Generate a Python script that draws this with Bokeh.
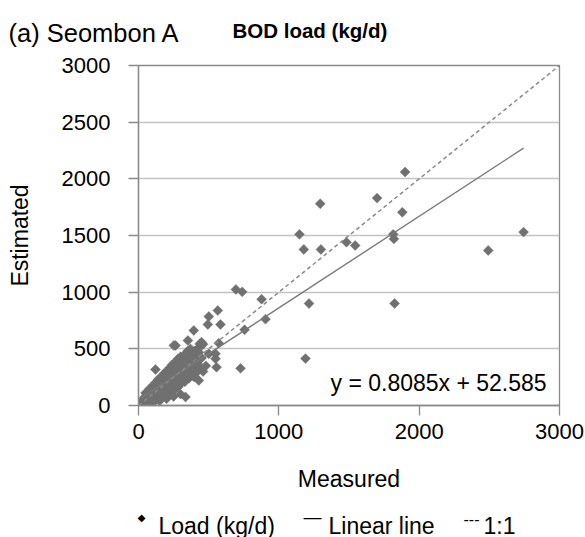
import numpy as np
from bokeh.plotting import figure
from bokeh.layouts import column
from bokeh.models import Range1d, FixedTicker, Label, ColumnDataSource
from bokeh.embed import file_html
from bokeh.resources import INLINE

# ---------------- data ----------------
title_left = "(a) Seombon A"
title_right = "BOD load (kg/d)"
x_label = "Measured"
y_label = "Estimated"
x_ticks = [0, 1000, 2000, 3000]
y_ticks = [0, 500, 1000, 1500, 2000, 2500, 3000]
slope = 0.8085
intercept = 52.585
equation = "y = 0.8085x + 52.585"
legend_labels = ["Load (kg/d)", "Linear line", "1:1"]

measured = [
    # dense band along the 1:1 line
    5, 10, 15, 20, 25, 30, 35, 40, 45, 50,
    55, 60, 65, 70, 75, 80, 85, 90, 95, 100,
    105, 110, 115, 120, 125, 130, 135, 140, 145, 150,
    155, 160, 165, 170, 175, 180, 185, 190, 195, 200,
    205, 210, 215, 220, 225, 230, 235, 240, 245, 250,
    255, 260, 265, 270, 275, 280, 285, 290, 295, 300,
    310, 320, 330, 340, 350, 360, 370, 380, 390, 400,
    410, 420, 430, 440, 450, 460,
    # below the line
    60, 90, 120, 150, 180, 210, 240, 270, 300, 330,
    360, 390, 200, 250, 280, 320, 350, 380, 420, 440,
    30, 60, 90, 120, 150, 180, 210, 240, 270, 300,
    330, 360, 390, 420, 100, 150, 200, 250, 300, 335,
    400, 460, 480, 170, 230, 290, 350, 410,
    # above the line
    50, 80, 100, 120, 140, 160, 180, 200, 220, 240,
    260, 280, 300, 150, 190, 230, 270, 310, 330, 350, 370,
    40, 70, 100, 130, 160, 190, 220, 250, 280, 310,
    340, 370, 400, 90, 140, 210, 260, 320, 380,
    # near origin
    8, 12, 18, 22, 28, 32, 38, 42, 48, 52,
    58, 62, 68, 72, 78, 82, 88, 92, 98, 102,
    # scattered points
    1900, 1295, 1700, 1880, 1147, 1815, 1820, 1178, 1300, 1482,
    1544, 2492, 2744, 694, 739, 877, 905, 756, 565, 501,
    584, 494, 394, 352, 437, 572, 549, 556, 727, 121,
    430, 1190, 1215, 1825, 449, 501, 549, 430, 264, 252,
]
estimated = [
    10, 20, 5, 30, 15, 40, 25, 50, 35, 60,
    45, 70, 50, 85, 60, 95, 70, 100, 80, 110,
    90, 130, 95, 140, 105, 150, 115, 160, 125, 175,
    130, 185, 140, 200, 150, 210, 160, 220, 170, 240,
    180, 250, 190, 265, 200, 280, 210, 290, 220, 305,
    230, 320, 240, 330, 250, 345, 260, 360, 270, 380,
    290, 400, 300, 420, 320, 440, 340, 460, 360, 480,
    380, 500, 400, 520, 420, 540,
    20, 40, 60, 80, 100, 120, 140, 170, 190, 210,
    240, 260, 90, 130, 160, 220, 250, 280, 300, 330,
    10, 35, 55, 90, 110, 150, 170, 200, 230, 250,
    290, 310, 340, 370, 20, 40, 60, 80, 100, 75,
    250, 300, 350, 90, 150, 200, 270, 330,
    110, 150, 170, 200, 230, 250, 280, 300, 330, 360,
    380, 410, 430, 210, 260, 320, 360, 420, 450, 480, 500,
    70, 100, 140, 170, 200, 235, 265, 300, 320, 360,
    380, 410, 440, 130, 200, 260, 310, 390, 430,
    0, 8, 12, 10, 22, 18, 30, 28, 40, 38,
    52, 48, 60, 64, 72, 76, 84, 88, 95, 100,
    2060, 1780, 1830, 1705, 1510, 1510, 1470, 1377, 1377, 1441,
    1412, 1368, 1530, 1024, 1003, 938, 762, 668, 838, 785,
    715, 715, 662, 574, 544, 550, 412, 338, 328, 318,
    221, 414, 900, 900, 559, 456, 456, 470, 530, 530,
]
assert len(measured) == len(estimated)

# ---------------- layout constants ----------------
W = 585
TOP_H, MAIN_H, LEG_H = 48, 452, 37          # stacked strips (total 537)
FL, FR = 138, 559                          # frame left / right (canvas px)
FT, FB = 65 - TOP_H, 405 - TOP_H           # frame top / bottom inside main strip
FONT = "Liberation Sans"
AX_COL = "#8a8a8a"
MARK_COL = "#707070"


def no_align(fig):
    if "frame_align" in fig.properties():
        fig.frame_align = False


def text_strip(height):
    f = figure(width=W, height=height, output_backend="svg", toolbar_location=None,
               x_range=Range1d(0, W), y_range=Range1d(height, 0),
               x_axis_type=None, y_axis_type=None, title=None,
               min_border_left=0, min_border_right=0, min_border_top=0, min_border_bottom=0)
    f.outline_line_color = None
    f.background_fill_color = "white"
    f.border_fill_color = "white"
    no_align(f)
    return f


def lab(fig, x, y, text, size, font=FONT, style="normal", align="left", baseline="alphabetic"):
    fig.add_layout(Label(x=x, y=y, text=text, text_font=font, text_font_size=f"{size}px",
                         text_font_style=style, text_align=align, text_baseline=baseline,
                         text_color="black"))


# ---------------- title strip ----------------
top = text_strip(TOP_H)
lab(top, 8, 32, title_left, 25.5)
lab(top, 232, 30, title_right, 20.5, style="bold")

# ---------------- main plot ----------------
p = figure(width=W, height=MAIN_H, output_backend="svg", toolbar_location=None,
           x_range=Range1d(x_ticks[0], x_ticks[-1]), y_range=Range1d(y_ticks[0], y_ticks[-1]),
           min_border_left=FL, min_border_right=W - FR, min_border_top=FT,
           min_border_bottom=MAIN_H - FB, title=None)
no_align(p)
p.background_fill_color = "white"
p.border_fill_color = "white"
p.outline_line_color = AX_COL
p.outline_line_width = 1.3

src = ColumnDataSource(dict(x=measured, y=estimated))
p.scatter("x", "y", source=src, marker="square", angle=np.pi / 4, size=7,
          fill_color=MARK_COL, line_color=MARK_COL, line_width=0.5)

fx = [min(measured), max(measured)]
fy = [slope * v + intercept for v in fx]
p.line(fx, fy, line_color="#7a7a7a", line_width=1.4)

p.line([x_ticks[0], x_ticks[-1]], [y_ticks[0], y_ticks[-1]], line_color="#8a8a8a",
       line_width=1.5, line_dash="4 3")

for ax in (p.xaxis, p.yaxis):
    ax.axis_line_color = AX_COL
    ax.axis_line_width = 1.3
    ax.major_tick_line_color = AX_COL
    ax.major_tick_line_width = 1.3
    ax.major_tick_in = 0
    ax.major_tick_out = 10
    ax.minor_tick_line_color = None
    ax.major_label_text_font = FONT
    ax.major_label_text_font_size = "22px"
    ax.major_label_text_color = "black"
    ax.axis_label_text_font = FONT
    ax.axis_label_text_font_size = "23px"
    ax.axis_label_text_font_style = "normal"
    ax.axis_label_text_color = "black"

p.xaxis.ticker = FixedTicker(ticks=x_ticks)
p.yaxis.ticker = FixedTicker(ticks=y_ticks)
p.xaxis.axis_label = x_label
p.yaxis.axis_label = y_label
p.xaxis.major_label_standoff = 8
p.yaxis.major_label_standoff = 18
p.xaxis.axis_label_standoff = 24
p.yaxis.axis_label_standoff = 26

p.xgrid.grid_line_color = None
p.ygrid.ticker = FixedTicker(ticks=y_ticks)
p.ygrid.grid_line_color = "#c4c4c4"
p.ygrid.grid_line_width = 1.5

# equation (inside the frame, screen units relative to frame bottom-left)
p.add_layout(Label(x=330 - FL, y=405 - 382, x_units="screen", y_units="screen", text=equation,
                   text_font=FONT, text_font_size="23px", text_baseline="alphabetic",
                   text_color="black"))

# ---------------- legend strip ----------------
leg = text_strip(LEG_H)
o = TOP_H + MAIN_H
lab(leg, 141, 517 - o, "\u25C6", 10, font="DejaVu Sans", align="center", baseline="middle")
lab(leg, 158, 525 - o, legend_labels[0], 23)
lab(leg, 303, 516 - o, "\u2014", 18)
lab(leg, 328, 525 - o, legend_labels[1], 23)
lab(leg, 463, 518 - o, "---", 16)
lab(leg, 483, 525 - o, legend_labels[2], 23)

layout = column(top, p, leg, spacing=0)
open("out.html", "w").write(file_html(layout, INLINE))
